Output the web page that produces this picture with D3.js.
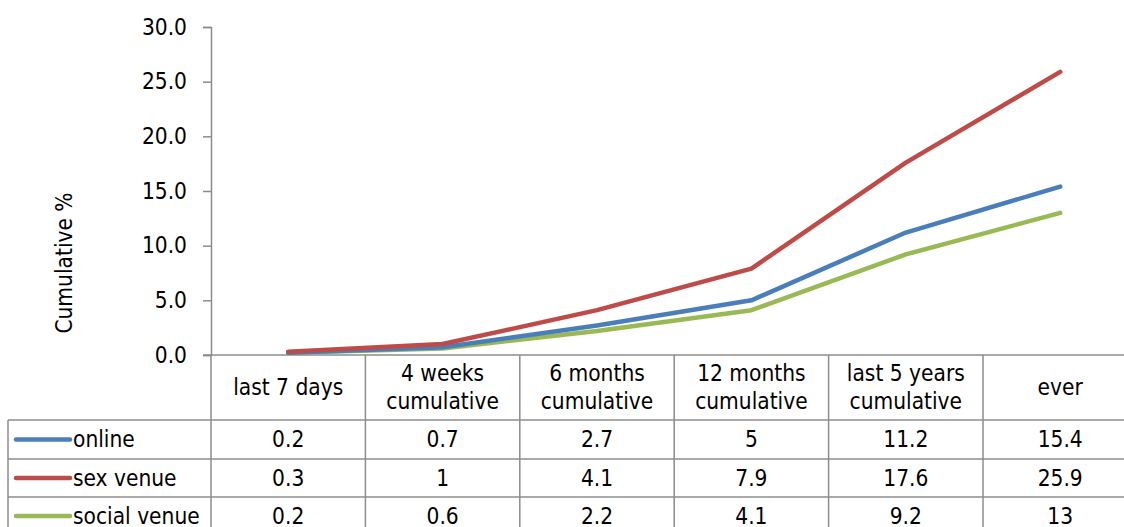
<!DOCTYPE html>
<html><head><meta charset="utf-8">
<script src="https://cdn.jsdelivr.net/npm/d3@7"></script>
<style>
html,body{margin:0;padding:0;background:#fff;overflow:hidden}
svg text{font-family:"DejaVu Sans Condensed","DejaVu Sans",sans-serif;fill:#000}
</style></head>
<body>
<svg id="c" width="1124" height="527"></svg>
<script>
const categories = [["last 7 days"],["4 weeks","cumulative"],["6 months","cumulative"],["12 months","cumulative"],["last 5 years","cumulative"],["ever"]];
const seriesNames = ["online","sex venue","social venue"];
const online = [0.2,0.7,2.7,5,11.2,15.4];
const sexVenue = [0.3,1,4.1,7.9,17.6,25.9];
const socialVenue = [0.2,0.6,2.2,4.1,9.2,13];
const tableText = [["0.2","0.7","2.7","5","11.2","15.4"],["0.3","1","4.1","7.9","17.6","25.9"],["0.2","0.6","2.2","4.1","9.2","13"]];
const yTicks = [0,5,10,15,20,25,30];
const colors = ["#4a7ebb","#be4b48","#98b954"];
const series = [online, sexVenue, socialVenue];

const FS = "22.5px";
const svg = d3.select("#c");
const plotLeft = 211, colW = 154.4, plotTop = 27, base = 355;
const keys = categories.map((c,i)=>i);
const x = d3.scaleBand().domain(keys).range([plotLeft, plotLeft+colW*6]);
const y = d3.scaleLinear().domain([0,30]).range([base, plotTop]);
const grid = "#8c8c8c";

// y axis
const yAxis = d3.axisLeft(y).tickValues(yTicks).tickFormat(d3.format(".1f")).tickSize(8).tickPadding(16);
const ga = svg.append("g").attr("transform",`translate(${plotLeft},0)`).call(yAxis);
ga.select(".domain").attr("stroke",grid).attr("stroke-width",1.5);
ga.selectAll(".tick line").attr("stroke",grid).attr("stroke-width",1.5);
ga.selectAll(".tick text").style("font-size",FS).attr("fill","#000");

svg.append("text").attr("transform",`translate(64,263) rotate(-90)`).attr("text-anchor","middle")
  .attr("dy","0.35em").style("font-size",FS).text("Cumulative %");

// table geometry
const rowTops = [base, 420, 459, 497, 535];
const tableLeft = 8, tableRight = 1124;
const tl = svg.append("g").attr("stroke",grid).attr("stroke-width",1.5);
tl.append("line").attr("x1",plotLeft-8).attr("x2",tableRight).attr("y1",base).attr("y2",base);
[420,459,497].forEach(r=>tl.append("line").attr("x1",tableLeft).attr("x2",tableRight).attr("y1",r).attr("y2",r));
keys.forEach(k=>{
  tl.append("line").attr("x1",x(k)).attr("x2",x(k)).attr("y1",base).attr("y2",535);
});
tl.append("line").attr("x1",plotLeft+colW*6).attr("x2",plotLeft+colW*6).attr("y1",base).attr("y2",535);
tl.append("line").attr("x1",tableLeft).attr("x2",tableLeft).attr("y1",420).attr("y2",535);

// header labels
keys.forEach(k=>{
  const lines = categories[k];
  const cx = x(k)+x.bandwidth()/2;
  const cy = (rowTops[0]+rowTops[1])/2;
  const lh = 28;
  lines.forEach((t,j)=>{
    svg.append("text").attr("x",cx).attr("y",cy + (j-(lines.length-1)/2)*lh).attr("dy","0.35em")
      .attr("text-anchor","middle").style("font-size",FS).text(t);
  });
});

// data rows
series.forEach((s,i)=>{
  const cy = (rowTops[i+1]+rowTops[i+2])/2;
  svg.append("line").attr("x1",16).attr("x2",70).attr("y1",cy).attr("y2",cy)
    .attr("stroke",colors[i]).attr("stroke-width",4.5).attr("stroke-linecap","round");
  svg.append("text").attr("x",73).attr("y",cy).attr("dy","0.35em").style("font-size",FS).text(seriesNames[i]);
  keys.forEach(k=>{
    svg.append("text").attr("x",x(k)+x.bandwidth()/2).attr("y",cy).attr("dy","0.35em")
      .attr("text-anchor","middle").style("font-size",FS).text(tableText[i][k]);
  });
});

// lines
const line = d3.line().x((d,i)=>x(i)+x.bandwidth()/2).y(d=>y(d));
[2,0,1].forEach(i=>{
  svg.append("path").datum(series[i]).attr("d",line).attr("fill","none")
    .attr("stroke",colors[i]).attr("stroke-width",4.5).attr("stroke-linecap","round").attr("stroke-linejoin","round");
});
</script>
</body></html>
